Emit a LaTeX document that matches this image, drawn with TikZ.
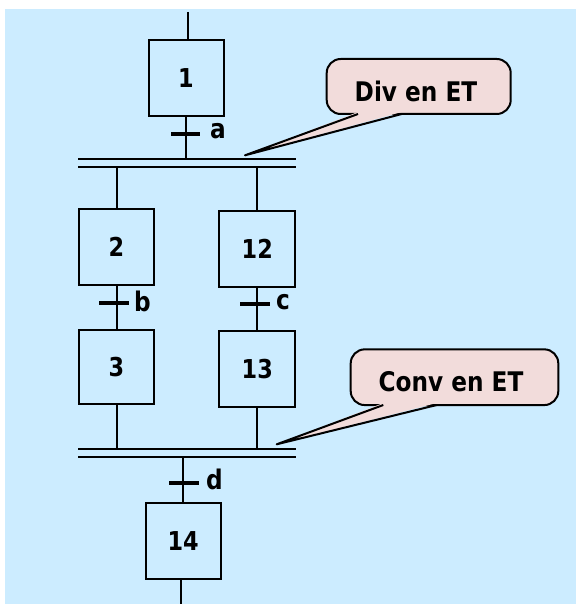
\documentclass[tikz,border=0pt]{standalone}
\usepackage{fontspec}
\usetikzlibrary{calc}
\setmainfont{DejaVu Sans}[FakeStretch=0.86]
\definecolor{bgblue}{HTML}{CCECFF}
\definecolor{callpink}{HTML}{F2DCDB}
\begin{document}
\begin{tikzpicture}[x=1pt,y=-1pt,
  stepbox/.style={draw,line width=2pt,minimum width=75pt,minimum height=76pt,inner sep=0pt,font=\fontsize{26}{28}\selectfont\bfseries},
  link/.style={line width=2pt},
  tick/.style={line width=3.4pt},
  lab/.style={anchor=west,inner sep=0pt,font=\fontsize{27}{28}\selectfont\bfseries},
  callbox/.style={draw=black,fill=callpink,line width=2pt,rounded corners=14pt,inner sep=0pt},
  calltext/.style={inner sep=0pt,font=\fontsize{27}{28}\selectfont\bfseries}]
\useasboundingbox (0,0) rectangle (576,604);
\fill[bgblue] (5,9) rectangle (576,604);

% steps
\node[stepbox] (s1) at (186,78) {1};
\node[stepbox,minimum width=75.6pt] (s2) at (116.5,247) {2};
\node[stepbox,minimum width=76pt] (s12) at (257.3,249) {12};
\node[stepbox,minimum width=75.6pt,minimum height=74pt] (s3) at (116.5,367) {3};
\node[stepbox,minimum width=76pt] (s13) at (257.3,369) {13};
\node[stepbox] (s14) at (183.2,541) {14};

% double bars
\coordinate (b1a) at (78,159);
\coordinate (b1b) at (78,166.7);
\coordinate (b2a) at (78,448.7);
\coordinate (b2b) at (78,457);
\draw[link] (b1a) -- ++(217.7,0);
\draw[link] (b1b) -- ++(217.7,0);
\draw[link] (b2a) -- ++(217.7,0);
\draw[link] (b2b) -- ++(217.7,0);

% free ends
\coordinate (topend) at (188,12);
\coordinate (botend) at (181,604);

% links
\draw[link] (topend) -- (topend |- s1.north);
\draw[link] (s1.south) -- (s1.south |- b1a);
\draw[link] (s2.north) -- (s2.north |- b1b);
\draw[link] (s12.north) -- (s12.north |- b1b);
\draw[link] (s2.south) -- (s3.north);
\draw[link] (s12.south) -- (s13.north);
\draw[link] (s3.south) -- (s3.south |- b2a);
\draw[link] (s13.south) -- (s13.south |- b2a);
\draw[link] (s14.north) -- (s14.north |- b2b);
\draw[link] (botend |- s14.south) -- (botend);

% transitions
\coordinate (ta) at (185,134);
\coordinate (tb) at (114,303);
\coordinate (tc) at (255,304);
\coordinate (td) at (183,483);
\draw[tick] ($(ta)+(-14,0)$) -- ($(ta)+(15,0)$);
\draw[tick] ($(tb)+(-15,0)$) -- ($(tb)+(15,0)$);
\draw[tick] ($(tc)+(-15,0)$) -- ($(tc)+(15,0)$);
\draw[tick] ($(td)+(-14,0)$) -- ($(td)+(16,0)$);
\node[lab] (la) at (210,131) {a};
\node[lab] (lb) at (134,301) {b};
\node[lab] (lc) at (276,302) {c};
\node[lab] (ld) at (206,479) {d};

% callout 1
\node[callbox,minimum width=184pt,minimum height=55pt] (cb1) at (418.7,86.5) {};
\coordinate (tip1) at (245,155.3);
\coordinate (p1a) at (358,114);
\coordinate (p1b) at (401.7,114);
\fill[callpink] ($(p1a)+(0,-2)$) -- ($(p1b)+(0,-2)$) -- (tip1) -- cycle;
\draw[link,line join=round] (p1a) -- (tip1) -- (p1b);
\node[calltext] (c1) at (416,91) {Div en ET};

% callout 2
\node[callbox,minimum width=207.6pt,minimum height=55.7pt] (cb2) at (454.5,377.2) {};
\coordinate (tip2) at (276.7,444.3);
\coordinate (p2a) at (383.3,405);
\coordinate (p2b) at (436.7,405);
\fill[callpink] ($(p2a)+(0,-2)$) -- ($(p2b)+(0,-2)$) -- (tip2) -- cycle;
\draw[link,line join=round] (p2a) -- (tip2) -- (p2b);
\node[calltext] (c2) at (451,382) {Conv en ET};
\end{tikzpicture}
\end{document}
